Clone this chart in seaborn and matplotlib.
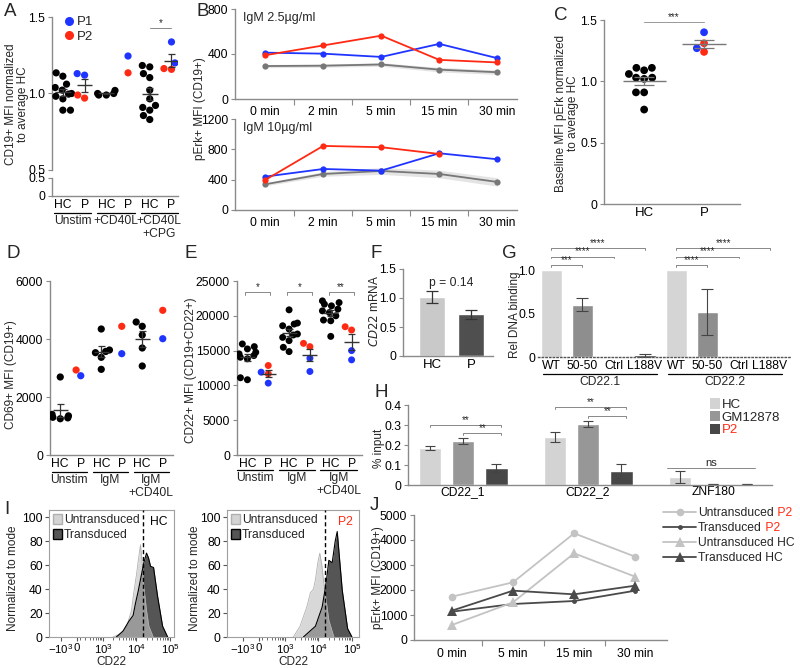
import warnings
import numpy as np
import pandas as pd
import matplotlib
matplotlib.use("Agg")
import matplotlib.pyplot as plt
import matplotlib.transforms as mtransforms
from matplotlib.patches import Patch
from matplotlib.lines import Line2D
import seaborn as sns

warnings.filterwarnings("ignore")

# ---------------- data ----------------
# A: CD19+ MFI normalized to average HC
a_hc_unstim = [1.135, 1.113, 1.061, 1.039, 1.022, 1.0, 0.996, 0.982, 0.965, 0.891, 0.891]
a_p1_unstim = [1.13, 1.12]
a_p2_unstim = [0.97, 0.99]
a_hc_cd40l = [1.02, 1.0, 0.99, 0.99, 1.0]
a_p1_cd40l = [1.245]
a_p2_cd40l = [1.135]
a_hc_cpg = [1.183, 1.174, 1.13, 1.104, 1.022, 0.965, 0.922, 0.909, 0.891, 0.856, 0.83]
a_p1_cpg = [1.337, 1.20]
a_p2_cpg = [1.158, 1.163]
a_groups = ["Unstim", "+CD40L", "+CD40L\n+CPG"]

# B: pErk time course
b_times = ["0 min", "2 min", "5 min", "15 min", "30 min"]
b_low_red = [389, 476, 563, 348, 325]
b_low_blue = [412, 403, 374, 490, 363]
b_low_hc = [293, 296, 307, 261, 238]
b_low_sem = [14, 14, 16, 20, 20]
b_high_red = [396, 845, 828, 739, np.nan]
b_high_blue = [440, 541, 519, 748, 669]
b_high_hc = [339, 475, 515, 475, 370]
b_high_sem = [20, 30, 45, 50, 55]

# C: baseline pErk normalized
c_hc = [1.09, 1.11, 1.11, 1.06, 1.03, 1.02, 1.03, 0.91, 0.91, 0.77]
c_p1 = [1.40, 1.27]
c_p2 = [1.31, 1.24]

# D: CD69 MFI
d_hc_unstim = [2690, 1400, 1350, 1300, 1280, 1250]
d_p1_unstim = [2734]
d_p2_unstim = [2931]
d_hc_igm = [4345, 3620, 3528, 3368, 2954, 3570]
d_p1_igm = [3494]
d_p2_igm = [4437]
d_hc_cd40l = [4586, 4437, 4138, 3690, 3069]
d_p1_cd40l = [4010]
d_p2_cd40l = [4989]
de_groups = ["Unstim", "IgM", "IgM\n+CD40L"]

# E: CD22 MFI
e_hc_unstim = [15571, 15243, 15957, 14757, 14529, 14286, 14043, 13814, 10814, 11100]
e_p1_unstim = [11900, 10329]
e_p2_unstim = [12857, 11671]
e_hc_igm = [20857, 18957, 18571, 18814, 18100, 17386, 17243, 16900, 16429, 15471, 14857]
e_p1_igm = [13900, 12000]
e_p2_igm = [15571, 16043]
e_hc_cd40l = [21900, 21671, 22143, 21429, 20957, 20714, 20471, 20000, 19386, 19286, 17043]
e_p1_cd40l = [15000, 13671]
e_p2_cd40l = [17957, 18429]
e_sig = ["*", "*", "**"]

# F: CD22 mRNA
f_cats = ["HC", "P"]
f_vals = [1.02, 0.72]
f_err = [0.10, 0.08]

# G: relative DNA binding
g_keys = ["WT.1", "5050.1", "Ctrl.1", "L188V.1", "WT.2", "5050.2", "Ctrl.2", "L188V.2"]
g_labels = ["WT", "50-50", "Ctrl", "L188V", "WT", "50-50", "Ctrl", "L188V"]
g_vals = [1.0, 0.60, 0.0, 0.02, 1.0, 0.52, 0.0, 0.0]
g_err = [0.0, 0.075, 0.0, 0.02, 0.0, 0.265, 0.0, 0.0]
g_groups = ["CD22.1", "CD22.2"]

# H: ChIP % input
h_loci = ["CD22_1", "CD22_2", "ZNF180"]
h_cells = ["HC", "GM12878", "P2"]
h_hc = [0.185, 0.24, 0.04]
h_gm = [0.22, 0.305, 0.005]
h_p2 = [0.085, 0.07, 0.004]
h_hc_err = [0.012, 0.027, 0.028]
h_gm_err = [0.017, 0.015, 0.002]
h_p2_err = [0.018, 0.035, 0.001]

# I: CD22 histograms (x = log10 position on display axis, y = % of mode)
i_hc_un_x = [3.3, 3.55, 3.72, 3.85, 3.92, 4.0, 4.07, 4.12, 4.17, 4.22, 4.3, 4.37, 4.5]
i_hc_un_y = [0, 3, 10, 22, 37, 52, 67, 77, 62, 42, 22, 9, 0]
i_hc_tr_x = [3.4, 3.6, 3.77, 3.9, 3.97, 4.05, 4.12, 4.22, 4.30, 4.36, 4.42, 4.51, 4.63, 4.78, 4.93]
i_hc_tr_y = [0, 5, 13, 18, 28, 38, 48, 62, 70, 66, 59, 58, 34, 9, 0]
i_p2_un_x = [3.25, 3.45, 3.65, 3.76, 3.85, 3.91, 3.98, 4.04, 4.1, 4.16, 4.31, 4.46]
i_p2_un_y = [0, 9, 25, 37, 40, 48, 62, 70, 60, 45, 14, 0]
i_p2_tr_x = [3.55, 3.91, 4.11, 4.2, 4.25, 4.31, 4.41, 4.5, 4.56, 4.63, 4.71, 4.87, 5.0]
i_p2_tr_y = [0, 9, 25, 40, 50, 64, 62, 80, 88, 65, 39, 7, 0]
i_gate = 4.19

# J: pErk after transduction
j_times = ["0 min", "5 min", "15 min", "30 min"]
j_untr_p2 = [1733, 2307, 4267, 3333]
j_tr_p2 = [1133, 1440, 1560, 1973]
j_untr_hc = [600, 1507, 3467, 2533]
j_tr_hc = [1173, 1973, 1827, 2173]

# ---------------- style ----------------
BLUE = "#1f35ff"
RED = "#ff2a14"
PAL = {"HC": "black", "P1": BLUE, "P2": RED}
SPINE = "#8a8a8a"
FS = 8.7   # general text size
LFS = 8.5  # axis label size

sns.set_theme(style="ticks")
plt.rcParams["font.family"] = ["Liberation Sans", "DejaVu Sans"]
plt.rcParams["font.size"] = FS
plt.rcParams["mathtext.default"] = "regular"

W, H = 800, 668
fig = plt.figure(figsize=(8, 6.68), dpi=100)


def box(x0, y0, x1, y1):
    return [x0 / W, 1 - y1 / H, (x1 - x0) / W, (y1 - y0) / H]


def fx(px):
    return px / W


def fy(py):
    return 1 - py / H


def style(ax, lab=FS):
    sns.despine(ax=ax)
    for s in ["left", "bottom"]:
        ax.spines[s].set_color(SPINE)
        ax.spines[s].set_linewidth(1)
    ax.tick_params(colors=SPINE, labelcolor="black", length=3, width=0.8, labelsize=lab, pad=2)


def ylab(px, py, s, **kw):
    fig.text(fx(px), fy(py), s, rotation=90, ha="center", va="center", fontsize=LFS,
             linespacing=1.1, **kw)


def to_long(sets):
    rows = []
    for cat, who, vals in sets:
        for v in vals:
            rows.append({"cat": cat, "who": who, "val": v})
    return pd.DataFrame(rows)


def mean_sem(ax, x, vals, w=0.36, cw=0.17, color="#333333"):
    v = np.asarray(vals, dtype=float)
    m = v.mean()
    s = v.std(ddof=1) / np.sqrt(len(v))
    ax.hlines(m, x - w, x + w, color=color, lw=1, zorder=4)
    ax.vlines(x, m - s, m + s, color=color, lw=0.9, zorder=4)
    ax.hlines([m - s, m + s], x - cw, x + cw, color=color, lw=0.9, zorder=4)


def dots(ax, sets, order, size=5.2, line_color="#333333"):
    df = to_long(sets)
    sns.swarmplot(data=df, x="cat", y="val", hue="who", order=order, palette=PAL,
                  size=size, linewidth=0, legend=False, ax=ax, zorder=3)
    for i, c in enumerate(order):
        v = df.loc[df["cat"] == c, "val"]
        if len(v) >= 3:
            mean_sem(ax, i, v, color=line_color)
    return df


def bracket(ax, x0, x1, y, text, tick=0.0, fs=7, color="#888888"):
    ax.plot([x0, x0, x1, x1], [y - tick, y, y, y - tick], color=color, lw=0.7, clip_on=False)
    ax.text((x0 + x1) / 2, y, text, ha="center", va="bottom", fontsize=fs, clip_on=False)


def group_labels(ax, groups, line_py, text_py, lo=-0.42, hi=1.3, fs=FS):
    tr = mtransforms.blended_transform_factory(ax.transData, fig.transFigure)
    for k, g in enumerate(groups):
        ax.plot([2 * k + lo, 2 * k + hi], [fy(line_py)] * 2, color="black", lw=0.9,
                transform=tr, clip_on=False)
        ax.text(2 * k + (lo + hi) / 2, fy(text_py), g, ha="center", va="top",
                fontsize=fs, transform=tr, linespacing=1.1)


def letter(px, py, s):
    fig.text(fx(px), fy(py), s, fontsize=13.5, ha="left", va="center")


# ---------------- A ----------------
a_order = ["uHC", "uP", "cHC", "cP", "gHC", "gP"]
axA = fig.add_axes(box(52, 17, 178, 170))
axA2 = fig.add_axes(box(52, 178, 178, 196))
dots(axA, [("uHC", "HC", a_hc_unstim), ("uP", "P1", a_p1_unstim), ("uP", "P2", a_p2_unstim),
           ("cHC", "HC", a_hc_cd40l), ("cP", "P1", a_p1_cd40l), ("cP", "P2", a_p2_cd40l),
           ("gHC", "HC", a_hc_cpg), ("gP", "P1", a_p1_cpg), ("gP", "P2", a_p2_cpg)], a_order)
for ax in (axA, axA2):
    style(ax)
    ax.set_xlim(-0.5, 5.3)
axA.set_ylim(0.5, 1.5)
axA.set_yticks([0.5, 1.0, 1.5])
axA.set_yticklabels(["0.5", "1.0", "1.5"])
axA.spines["bottom"].set_visible(False)
axA.set_xticks([])
axA.set_xlabel("")
axA.set_ylabel("")
axA2.set_ylim(0, 0.5)
axA2.set_yticks([0, 0.5])
axA2.set_yticklabels(["0", "0.5"])
axA2.set_xticks(range(6))
axA2.set_xticklabels(["HC", "P"] * 3)
axA2.tick_params(axis="x", length=0)
ylab(17, 104, "CD19+ MFI normalized\nto average HC")
bracket(axA, 4, 5, 1.43, "*")
axA.legend(handles=[Line2D([], [], marker="o", ls="", color=BLUE, markersize=5.5, label="P1"),
                    Line2D([], [], marker="o", ls="", color=RED, markersize=5.5, label="P2")],
           loc="upper left", bbox_to_anchor=(0.03, 1.04), frameon=False, handletextpad=0.0,
           borderaxespad=0, labelspacing=0.15, fontsize=9.5, handlelength=1.2)
group_labels(axA2, a_groups, 213, 215)
letter(4, 12, "A")

# ---------------- B ----------------
b_pos = range(len(b_times))
for red, blue, hc, sem, ymax, yt, title, yb in [
        (b_low_red, b_low_blue, b_low_hc, b_low_sem, 800, [0, 400, 800], "IgM 2.5\u00b5g/ml", (235, 9, 517, 99)),
        (b_high_red, b_high_blue, b_high_hc, b_high_sem, 1200, [0, 400, 800, 1200], "IgM 10\u00b5g/ml", (235, 119, 517, 210))]:
    ax = fig.add_axes(box(*yb))
    hc_a = np.asarray(hc, dtype=float)
    sem_a = np.asarray(sem, dtype=float)
    ax.fill_between(list(b_pos), hc_a - sem_a, hc_a + sem_a, color="#e4e4e4", lw=0, zorder=1)
    for vals, col in [(hc, "#777777"), (blue, BLUE), (red, RED)]:
        sns.lineplot(x=list(b_pos), y=vals, color=col, marker="o", markersize=4.5,
                     markeredgewidth=0, lw=1.3, ax=ax, zorder=3)
    style(ax)
    ax.set_xlim(-0.52, 4.34)
    ax.set_ylim(0, ymax)
    ax.set_yticks(yt)
    ax.set_xticks(list(b_pos))
    ax.set_xticklabels(b_times)
    ax.set_xticks([0.5, 1.5, 2.5, 3.5], minor=True)
    ax.tick_params(axis="x", which="major", length=0, pad=5)
    ax.tick_params(axis="x", which="minor", length=4, width=0.8, colors=SPINE)
    ax.text(0.03, 0.97, title, transform=ax.transAxes, ha="left", va="top", fontsize=9)
ylab(200, 109, "pErk+ MFI (CD19+)")
letter(196, 12, "B")

# ---------------- C ----------------
axC = fig.add_axes(box(604, 20, 740, 204))
dots(axC, [("HC", "HC", c_hc), ("P", "P1", c_p1), ("P", "P2", c_p2)], ["HC", "P"], size=5.6,
     line_color="#777777")
style(axC)
axC.set_xlim(-0.67, 1.6)
axC.set_ylim(0, 1.5)
axC.set_yticks([0, 0.5, 1.0, 1.5])
axC.set_yticklabels(["0", "0.5", "1.0", "1.5"])
axC.tick_params(axis="x", length=0, labelsize=9.5)
axC.set_xlabel("")
axC.set_ylabel("")
ylab(567, 113, "Baseline MFI pErk normalized\nto average HC")
bracket(axC, 0, 1, 1.48, "***", color="#999999")
letter(554, 15, "C")

# ---------------- D ----------------
axD = fig.add_axes(box(50, 281, 173, 455))
d_order = ["uHC", "uP", "iHC", "iP", "cHC", "cP"]
dots(axD, [("uHC", "HC", d_hc_unstim), ("uP", "P1", d_p1_unstim), ("uP", "P2", d_p2_unstim),
           ("iHC", "HC", d_hc_igm), ("iP", "P1", d_p1_igm), ("iP", "P2", d_p2_igm),
           ("cHC", "HC", d_hc_cd40l), ("cP", "P1", d_p1_cd40l), ("cP", "P2", d_p2_cd40l)], d_order)
style(axD)
axD.set_xlim(-0.5, 5.5)
axD.set_ylim(0, 6000)
axD.set_yticks([0, 2000, 4000, 6000])
axD.set_xticks(range(6))
axD.set_xticklabels(["HC", "P"] * 3)
axD.tick_params(axis="x", length=0)
axD.set_xlabel("")
axD.set_ylabel("")
ylab(11, 375, "CD69+ MFI (CD19+)")
group_labels(axD, de_groups, 472, 474)
letter(6, 253, "D")

# ---------------- E ----------------
axE = fig.add_axes(box(237, 281, 362, 455))
dots(axE, [("uHC", "HC", e_hc_unstim), ("uP", "P1", e_p1_unstim), ("uP", "P2", e_p2_unstim),
           ("iHC", "HC", e_hc_igm), ("iP", "P1", e_p1_igm), ("iP", "P2", e_p2_igm),
           ("cHC", "HC", e_hc_cd40l), ("cP", "P1", e_p1_cd40l), ("cP", "P2", e_p2_cd40l)], d_order,
     size=5.0)
style(axE)
axE.set_xlim(-0.5, 5.5)
axE.set_ylim(0, 25000)
axE.set_yticks([0, 5000, 10000, 15000, 20000, 25000])
axE.set_xticks(range(6))
axE.set_xticklabels(["HC", "P"] * 3)
axE.tick_params(axis="x", length=0)
axE.set_xlabel("")
axE.set_ylabel("")
ylab(191, 370, "CD22+ MFI (CD19+CD22+)")
for k, s in enumerate(e_sig):
    bracket(axE, 2 * k - 0.1, 2 * k + 1.1, 23470, s, tick=500)
group_labels(axE, de_groups, 470, 472, lo=-0.5, hi=1.25)
letter(185, 253, "E")

# ---------------- F ----------------
axF = fig.add_axes(box(403, 269, 493, 356))
sns.barplot(x=f_cats, y=f_vals, hue=f_cats, palette=["#c9c9c9", "#4f4f4f"], saturation=1,
            width=0.67, legend=False, ax=axF)
axF.errorbar(range(len(f_cats)), f_vals, yerr=f_err, fmt="none", ecolor="#333333",
             elinewidth=0.9, capsize=4, capthick=0.9)
style(axF)
axF.set_xlim(-0.74, 1.56)
axF.set_ylim(0, 1.5)
axF.set_yticks([0, 0.5, 1.0, 1.5])
axF.set_yticklabels(["0", "0.5", "1.0", "1.5"])
axF.tick_params(axis="x", length=0, labelsize=9.5)
ylab(374, 311, "$\\it{CD22}$ mRNA")
axF.text(0.5, 1.25, "p = 0.14", ha="center", va="center", fontsize=FS)
letter(371, 253, "F")

# ---------------- G ----------------
axG = fig.add_axes(box(538, 232, 790, 357))
g_colors = ["#d5d5d5", "#8e8e8e", "#8e8e8e", "#1e1e1e"] * 2
sns.barplot(x=g_keys, y=g_vals, hue=g_keys, palette=g_colors, saturation=1, width=0.68,
            legend=False, ax=axG)
for i, (v, e) in enumerate(zip(g_vals, g_err)):
    if e > 0:
        axG.errorbar(i, v, yerr=e, fmt="none", ecolor="#444444", elinewidth=0.8, capsize=4,
                     capthick=0.8)
style(axG)
axG.spines["left"].set_visible(False)
axG.spines["bottom"].set_linestyle(":")
axG.spines["bottom"].set_color("#555555")
axG.set_xlim(-0.42, 7.64)
axG.set_ylim(0, 1.437)
axG.set_yticks([0, 0.5, 1.0])
axG.set_yticklabels(["0", "0.5", "1.0"])
axG.tick_params(length=0)
axG.set_xticks(range(len(g_labels)))
axG.set_xticklabels(g_labels)
ylab(515, 315, "Rel DNA binding")
for k in range(2):
    base = 4 * k
    bracket(axG, base, base + 1, 1.057, "***" if k == 0 else "****", tick=0.02)
    bracket(axG, base, base + 2, 1.155, "****", tick=0.02)
    bracket(axG, base, base + 3, 1.25, "****", tick=0.02)
trG = mtransforms.blended_transform_factory(axG.transData, fig.transFigure)
for k, g in enumerate(g_groups):
    lo, hi = 4 * k - 0.26, 4 * k + 3.4
    axG.plot([lo, hi], [fy(374)] * 2, color="black", lw=0.9, transform=trG, clip_on=False)
    axG.text((lo + hi) / 2, fy(376), g, ha="center", va="top", fontsize=FS, transform=trG)
letter(502, 253, "G")

# ---------------- H ----------------
axH = fig.add_axes(box(408, 405, 772, 485))
h_colors = {"HC": "#d3d3d3", "GM12878": "#979797", "P2": "#474747"}
h_df = pd.DataFrame({
    "locus": h_loci * 3,
    "cell": [c for c in h_cells for _ in h_loci],
    "val": h_hc + h_gm + h_p2,
    "err": h_hc_err + h_gm_err + h_p2_err,
})
sns.barplot(data=h_df, x="locus", y="val", hue="cell", hue_order=h_cells, order=h_loci,
            palette=h_colors, saturation=1, gap=0.33, legend=False, ax=axH)
centers = {}
for cont, cell in zip(axH.containers, h_cells):
    for bar, locus in zip(cont, h_loci):
        cx = bar.get_x() + bar.get_width() / 2
        centers[(locus, cell)] = cx
        row = h_df[(h_df["locus"] == locus) & (h_df["cell"] == cell)].iloc[0]
        axH.errorbar(cx, row["val"], yerr=row["err"], fmt="none", ecolor="#444444",
                     elinewidth=0.8, capsize=3.5, capthick=0.8)
style(axH)
axH.set_xlim(-0.44, 2.47)
axH.set_ylim(0, 0.4)
axH.set_yticks([0, 0.1, 0.2, 0.3, 0.4])
axH.set_yticklabels(["0", "0.1", "0.2", "0.3", "0.4"])
axH.tick_params(axis="x", length=0, pad=1)
axH.set_xlabel("")
axH.set_ylabel("")
ylab(379, 448, "% input")
for locus, y1, y2 in [("CD22_1", 0.30, 0.26), ("CD22_2", 0.39, 0.345)]:
    bracket(axH, centers[(locus, "HC")], centers[(locus, "P2")] + 0.04, y1, "**", tick=0.008)
    bracket(axH, centers[(locus, "GM12878")], centers[(locus, "P2")] + 0.04, y2, "**", tick=0.008)
bracket(axH, centers[("ZNF180", "HC")] - 0.1, centers[("ZNF180", "P2")] + 0.07, 0.087, "ns", fs=8)
legH = axH.legend(handles=[Patch(facecolor=h_colors[c], edgecolor="none") for c in h_cells],
                  labels=h_cells, loc="upper left", bbox_to_anchor=(fx(710), fy(398)),
                  bbox_transform=fig.transFigure, frameon=False, handlelength=0.75,
                  handleheight=0.85, handletextpad=0.15, labelspacing=0.0, fontsize=9.5,
                  borderaxespad=0, borderpad=0)
legH.get_texts()[2].set_color(RED)
letter(374, 393, "H")

# ---------------- I ----------------
i_ticks = [1.75, 2.22, 3, 4, 5]
i_ticklabels = ["$-10^3$", "0", "$10^3$", "$10^4$", "$10^5$"]
for rect, xl, ux, uy, tx, ty, tag, tagc, lx in [
        ((49, 510, 174, 637), (1.39, 5.12), i_hc_un_x, i_hc_un_y, i_hc_tr_x, i_hc_tr_y, "HC", "black", 13),
        ((227, 510, 359, 637), (1.27, 5.21), i_p2_un_x, i_p2_un_y, i_p2_tr_x, i_p2_tr_y, "P2", RED, 195)]:
    ax = fig.add_axes(box(*rect))
    ax.fill_between(tx, ty, color="#555555", lw=0, zorder=2)
    ax.fill_between(ux, uy, color="#c2c2c2", alpha=0.63, lw=0, zorder=3)
    sns.lineplot(x=ux, y=uy, color="#b0b0b0", lw=0.6, ax=ax, zorder=4, sort=False)
    sns.lineplot(x=tx, y=ty, color="black", lw=0.8, ax=ax, zorder=5, sort=False)
    ax.axvline(i_gate, color="black", ls=(0, (3, 2)), lw=1, zorder=6)
    for s in ax.spines.values():
        s.set_color("#a0a0a0")
        s.set_linewidth(0.8)
    ax.tick_params(colors="#555555", labelcolor="black", length=3, width=0.8, labelsize=FS, pad=1.5)
    ax.tick_params(axis="x", labelsize=8.2, pad=1)
    ax.set_xlim(*xl)
    ax.set_ylim(0, 106)
    ax.set_yticks([0, 20, 40, 60, 80, 100])
    ax.set_xticks(i_ticks)
    ax.set_xticklabels(i_ticklabels)
    minors = [d + np.log10(k) for d in (2, 3, 4) for k in range(2, 10) if d + np.log10(k) > 2.3]
    ax.set_xticks(minors, minor=True)
    ax.tick_params(axis="x", which="minor", length=2, width=0.6, colors="#555555")
    ax.set_xlabel("")
    ax.text(0.5, fy(662), "CD22", transform=mtransforms.blended_transform_factory(ax.transAxes, fig.transFigure),
            ha="center", va="center", fontsize=LFS)
    ylab(lx, 578, "Normalized to mode")
    ax.legend(handles=[Patch(facecolor="#d4d4d4", edgecolor="#b0b0b0"),
                       Patch(facecolor="#555555", edgecolor="black")],
              labels=["Untransduced", "Transduced"], loc="upper left", bbox_to_anchor=(0.0, 1.0),
              frameon=False, handlelength=0.8, handleheight=1.0, handletextpad=0.15,
              labelspacing=0.2, fontsize=FS, borderaxespad=0.2, borderpad=0.1)
    ax.text(0.95, 0.95, tag, color=tagc, transform=ax.transAxes, ha="right", va="top", fontsize=FS)
letter(4, 510, "I")

# ---------------- J ----------------
axJ = fig.add_axes(box(414, 515, 667, 640))
LIGHT, DARK = "#c3c3c3", "#4a4a4a"
j_pos = list(range(len(j_times)))
j_series = [(j_untr_p2, LIGHT, "o", 5.5), (j_tr_p2, DARK, "o", 3.5),
            (j_untr_hc, LIGHT, "^", 6.5), (j_tr_hc, DARK, "^", 6.5)]
for vals, col, mk, ms in j_series:
    sns.lineplot(x=j_pos, y=vals, color=col, marker=mk, markersize=ms, markeredgewidth=0,
                 lw=1.3, ax=axJ)
style(axJ)
axJ.set_xlim(-0.62, 3.52)
axJ.set_ylim(0, 5000)
axJ.set_yticks([0, 1000, 2000, 3000, 4000, 5000])
axJ.set_xticks(j_pos)
axJ.set_xticklabels(j_times)
axJ.set_xticks([0.5, 1.5, 2.5], minor=True)
axJ.tick_params(axis="x", which="major", length=0, pad=6)
axJ.tick_params(axis="x", which="minor", length=4, width=0.8, colors=SPINE)
ylab(378, 578, "pErk+ MFI (CD19+)")
handles = [Line2D([], [], color=c, marker=m, markersize=ms, markeredgewidth=0, lw=1.3)
           for _, c, m, ms in j_series]
legJ = axJ.legend(handles=handles,
                  labels=["Untransduced", "Transduced", "Untransduced HC", "Transduced HC"],
                  loc="upper left", bbox_to_anchor=(fx(663), fy(507)), bbox_transform=fig.transFigure,
                  frameon=False, handlelength=2.75, handletextpad=0.15, labelspacing=0.25,
                  fontsize=FS, borderaxespad=0, borderpad=0)
letter(370, 505, "J")

fig.canvas.draw()
renderer = fig.canvas.get_renderer()
for t in legJ.get_texts()[:2]:
    bb = t.get_window_extent(renderer)
    fig.text(bb.x1 / fig.bbox.width, bb.y0 / fig.bbox.height, " P2", color=RED,
             fontsize=FS, ha="left", va="bottom")

fig.savefig("out.png", dpi=100)
